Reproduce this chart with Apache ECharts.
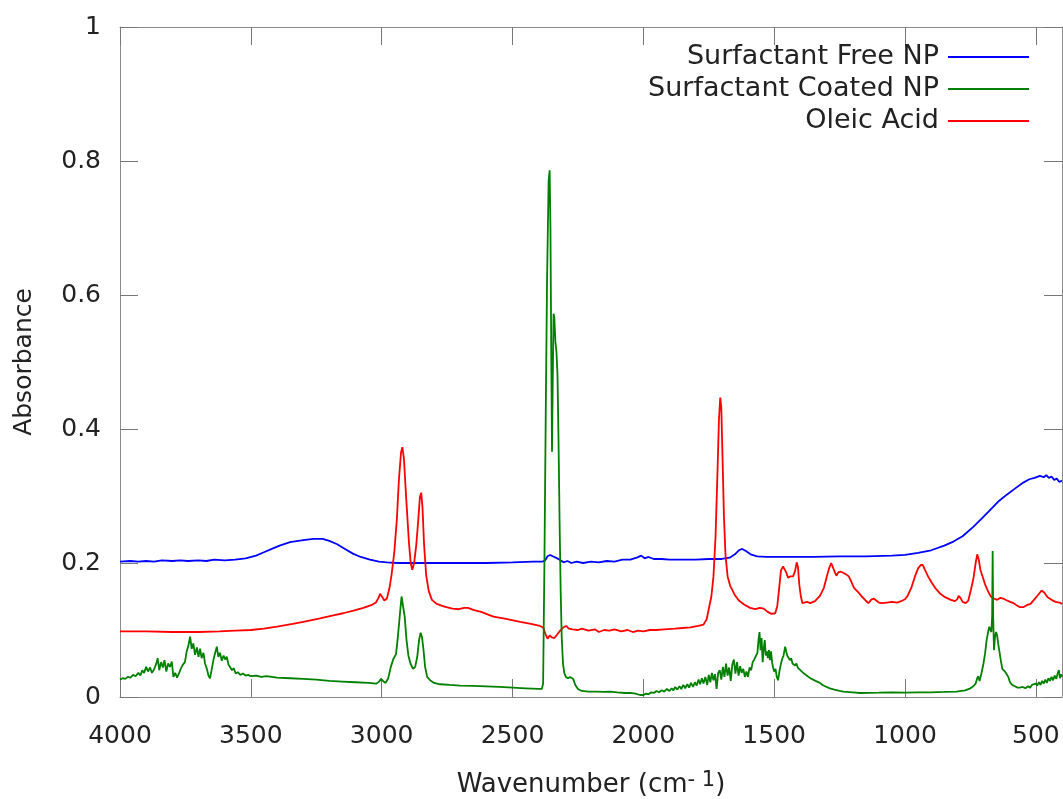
<!DOCTYPE html>
<html>
<head>
<meta charset="utf-8">
<script src="https://cdn.jsdelivr.net/npm/echarts@6/dist/echarts.min.js"></script>
<style>
  html, body { margin: 0; padding: 0; background: #fff; }
  #chart { width: 1063px; height: 799px; }
</style>
</head>
<body>
<div id="chart"></div>
<script>
// tick positions on the wavenumber axis
const xTicks = [500, 1000, 1500, 2000, 2500, 3000, 3500, 4000];

// [wavenumber, absorbance]
const freeNP = [
  [4000,0.202],[3960,0.203],[3930,0.202],[3900,0.203],[3870,0.202],[3840,0.204],[3800,0.203],[3770,0.204],
  [3740,0.203],[3700,0.204],[3670,0.203],[3640,0.205],[3600,0.204],[3560,0.205],[3520,0.207],[3480,0.211],
  [3450,0.216],[3420,0.221],[3390,0.226],[3350,0.231],[3300,0.234],[3260,0.236],[3225,0.236],[3200,0.233],
  [3170,0.228],[3140,0.221],[3110,0.214],[3080,0.209],[3045,0.205],[3010,0.202],[2980,0.201],[2940,0.200],
  [2900,0.200],[2800,0.200],[2700,0.200],[2600,0.200],[2500,0.201],[2420,0.202],[2385,0.202],[2375,0.204],
  [2366,0.210],[2356,0.212],[2346,0.210],[2335,0.208],[2320,0.205],[2305,0.201],[2290,0.203],[2275,0.200],
  [2255,0.202],[2230,0.200],[2200,0.202],[2170,0.201],[2140,0.203],[2110,0.202],[2080,0.205],[2050,0.205],
  [2025,0.208],[2008,0.211],[1995,0.207],[1980,0.209],[1960,0.206],[1930,0.206],[1900,0.205],[1850,0.205],
  [1800,0.205],[1750,0.206],[1700,0.206],[1670,0.208],[1650,0.213],[1635,0.219],[1622,0.221],[1608,0.218],
  [1590,0.213],[1565,0.210],[1530,0.209],[1450,0.209],[1350,0.209],[1250,0.210],[1150,0.210],[1050,0.211],
  [1000,0.212],[950,0.215],[900,0.219],[850,0.226],[815,0.232],[780,0.240],[739,0.254],[710,0.265],
  [675,0.279],[640,0.293],[611,0.302],[580,0.311],[548,0.320],[525,0.325],[505,0.327],[484,0.330],
  [470,0.328],[460,0.331],[450,0.327],[440,0.329],[430,0.324],[420,0.326],[410,0.321],[400,0.323]
];

const oleicAcid = [
  [4000,0.098],[3900,0.098],[3800,0.097],[3700,0.097],[3620,0.098],[3560,0.099],[3500,0.100],[3450,0.102],
  [3400,0.105],[3340,0.109],[3290,0.113],[3240,0.117],[3185,0.122],[3147,0.125],[3108,0.129],[3070,0.133],
  [3040,0.137],[3022,0.141],[3012,0.148],[3006,0.154],[2999,0.150],[2990,0.144],[2980,0.147],[2970,0.163],
  [2962,0.183],[2952,0.215],[2942,0.265],[2934,0.325],[2926,0.365],[2921,0.373],[2915,0.356],[2906,0.295],
  [2896,0.232],[2889,0.200],[2883,0.190],[2876,0.200],[2868,0.226],[2860,0.265],[2854,0.298],[2849,0.305],
  [2844,0.283],[2838,0.228],[2830,0.182],[2820,0.158],[2808,0.145],[2790,0.139],[2760,0.135],[2730,0.132],
  [2705,0.131],[2685,0.133],[2670,0.133],[2650,0.130],[2620,0.127],[2573,0.120],[2530,0.117],[2470,0.112],
  [2430,0.109],[2395,0.106],[2383,0.104],[2373,0.093],[2366,0.087],[2358,0.092],[2350,0.089],[2340,0.088],
  [2330,0.093],[2318,0.099],[2305,0.104],[2295,0.106],[2285,0.102],[2270,0.101],[2250,0.100],[2235,0.102],
  [2210,0.099],[2185,0.101],[2170,0.097],[2150,0.100],[2130,0.099],[2110,0.101],[2085,0.098],[2060,0.100],
  [2040,0.097],[2020,0.099],[2000,0.098],[1975,0.100],[1950,0.100],[1920,0.101],[1880,0.102],[1850,0.103],
  [1820,0.104],[1790,0.106],[1770,0.108],[1758,0.116],[1748,0.135],[1740,0.150],[1732,0.180],[1724,0.240],
  [1717,0.330],[1711,0.415],[1706,0.447],[1702,0.432],[1697,0.352],[1692,0.270],[1686,0.212],[1678,0.180],
  [1668,0.166],[1650,0.152],[1635,0.144],[1615,0.138],[1592,0.133],[1572,0.131],[1555,0.133],[1540,0.132],
  [1525,0.127],[1510,0.124],[1496,0.125],[1488,0.136],[1481,0.162],[1474,0.189],[1466,0.195],[1460,0.196],
  [1454,0.186],[1447,0.178],[1438,0.180],[1428,0.180],[1420,0.188],[1414,0.201],[1409,0.194],[1404,0.168],
  [1398,0.150],[1392,0.140],[1385,0.138],[1374,0.142],[1362,0.140],[1344,0.143],[1325,0.151],[1310,0.163],
  [1300,0.178],[1290,0.192],[1282,0.200],[1276,0.198],[1268,0.186],[1262,0.181],[1255,0.186],[1245,0.187],
  [1235,0.185],[1225,0.183],[1215,0.180],[1205,0.172],[1195,0.163],[1180,0.157],[1165,0.150],[1150,0.144],
  [1140,0.140],[1130,0.145],[1120,0.147],[1110,0.144],[1100,0.141],[1088,0.140],[1070,0.141],[1050,0.142],
  [1030,0.141],[1015,0.143],[1000,0.146],[990,0.151],[975,0.164],[962,0.180],[950,0.192],[940,0.197],
  [932,0.197],[924,0.190],[912,0.180],[900,0.172],[885,0.163],[865,0.154],[847,0.149],[825,0.145],
  [809,0.143],[800,0.146],[795,0.151],[788,0.148],[780,0.142],[768,0.140],[758,0.144],[748,0.160],
  [738,0.178],[730,0.200],[724,0.213],[718,0.205],[712,0.190],[702,0.178],[694,0.168],[683,0.158],
  [672,0.150],[660,0.147],[648,0.145],[635,0.148],[625,0.147],[610,0.144],[598,0.142],[585,0.140],
  [570,0.136],[560,0.134],[548,0.134],[535,0.137],[520,0.139],[505,0.146],[490,0.153],[478,0.159],
  [468,0.156],[455,0.149],[440,0.145],[425,0.142],[410,0.141],[400,0.139]
];

const coatedNP = [
  [4000,0.026],[3990,0.028],[3980,0.027],[3970,0.030],[3960,0.029],[3950,0.033],[3940,0.031],[3930,0.036],
  [3922,0.032],[3915,0.040],[3908,0.036],[3900,0.045],[3893,0.038],[3885,0.044],[3878,0.036],[3870,0.041],
  [3862,0.049],[3856,0.058],[3850,0.040],[3843,0.052],[3836,0.044],[3830,0.055],[3823,0.038],[3816,0.050],
  [3809,0.045],[3802,0.053],[3796,0.030],[3789,0.036],[3782,0.029],[3776,0.034],[3768,0.042],[3760,0.048],
  [3752,0.052],[3745,0.068],[3738,0.078],[3732,0.090],[3726,0.072],[3720,0.080],[3713,0.063],[3706,0.074],
  [3700,0.060],[3694,0.072],[3688,0.058],[3681,0.066],[3675,0.050],[3668,0.042],[3662,0.032],[3656,0.028],
  [3650,0.040],[3643,0.055],[3637,0.065],[3630,0.075],[3624,0.060],[3618,0.066],[3611,0.054],[3604,0.062],
  [3598,0.056],[3592,0.060],[3585,0.048],[3578,0.050],[3572,0.040],[3565,0.043],[3558,0.035],[3550,0.037],
  [3540,0.033],[3530,0.035],[3520,0.032],[3510,0.033],[3500,0.031],[3480,0.032],[3460,0.030],[3440,0.031],
  [3420,0.030],[3400,0.029],[3350,0.028],[3300,0.027],[3250,0.026],[3200,0.024],[3150,0.023],[3100,0.022],
  [3050,0.021],[3020,0.020],[3010,0.023],[3002,0.027],[2995,0.024],[2985,0.021],[2975,0.028],[2965,0.045],
  [2955,0.057],[2945,0.064],[2938,0.090],[2930,0.125],[2924,0.150],[2918,0.148],[2912,0.120],[2905,0.085],
  [2898,0.062],[2890,0.050],[2880,0.042],[2872,0.045],[2864,0.060],[2857,0.085],[2851,0.096],[2846,0.090],
  [2840,0.070],[2834,0.045],[2826,0.030],[2815,0.025],[2800,0.021],[2777,0.019],[2740,0.018],[2700,0.017],
  [2650,0.0165],[2600,0.016],[2550,0.015],[2500,0.014],[2450,0.013],[2400,0.012],[2388,0.012],[2383,0.020],
  [2378,0.200],[2373,0.420],[2368,0.620],[2362,0.770],[2358,0.786],[2355,0.700],[2352,0.520],[2349,0.366],
  [2346,0.480],[2343,0.572],[2340,0.565],[2336,0.530],[2332,0.515],[2328,0.480],[2324,0.380],[2320,0.260],
  [2316,0.160],[2312,0.090],[2307,0.050],[2302,0.036],[2296,0.030],[2288,0.028],[2280,0.030],[2274,0.031],
  [2268,0.027],[2260,0.018],[2250,0.012],[2235,0.009],[2210,0.008],[2180,0.008],[2150,0.0075],[2127,0.008],
  [2100,0.007],[2070,0.006],[2050,0.006],[2030,0.005],[2013,0.003],[2000,0.003],[1990,0.005],[1980,0.004],
  [1970,0.007],[1960,0.006],[1950,0.009],[1940,0.007],[1930,0.010],[1920,0.008],[1910,0.012],[1900,0.009],
  [1892,0.013],[1885,0.010],[1878,0.015],[1870,0.011],[1862,0.016],[1855,0.012],[1847,0.018],[1840,0.013],
  [1832,0.019],[1825,0.014],[1818,0.021],[1810,0.015],[1803,0.022],[1796,0.017],[1789,0.026],[1783,0.019],
  [1776,0.028],[1770,0.020],[1763,0.030],[1756,0.018],[1750,0.033],[1744,0.022],[1738,0.036],[1732,0.025],
  [1726,0.034],[1720,0.012],[1714,0.036],[1708,0.040],[1702,0.026],[1696,0.045],[1690,0.030],[1684,0.050],
  [1678,0.032],[1672,0.044],[1666,0.024],[1660,0.048],[1654,0.056],[1648,0.035],[1642,0.052],[1636,0.032],
  [1630,0.046],[1624,0.036],[1618,0.042],[1612,0.030],[1606,0.038],[1600,0.030],[1594,0.044],[1588,0.040],
  [1582,0.052],[1576,0.056],[1570,0.058],[1564,0.066],[1560,0.085],[1556,0.097],[1552,0.070],[1548,0.088],
  [1544,0.052],[1540,0.072],[1536,0.085],[1532,0.062],[1528,0.068],[1524,0.058],[1520,0.070],[1516,0.055],
  [1512,0.068],[1508,0.052],[1504,0.044],[1500,0.038],[1495,0.042],[1490,0.030],[1485,0.025],[1480,0.038],
  [1475,0.048],[1470,0.056],[1464,0.062],[1458,0.075],[1454,0.068],[1450,0.062],[1445,0.060],[1440,0.055],
  [1435,0.058],[1430,0.050],[1425,0.052],[1420,0.047],[1415,0.050],[1410,0.044],[1405,0.046],[1400,0.040],
  [1393,0.041],[1386,0.035],[1380,0.036],[1372,0.031],[1365,0.032],[1357,0.027],[1350,0.026],[1342,0.024],
  [1335,0.022],[1325,0.021],[1315,0.018],[1300,0.015],[1287,0.013],[1270,0.011],[1250,0.009],[1236,0.008],
  [1200,0.007],[1172,0.006],[1100,0.0065],[1050,0.007],[1000,0.0065],[950,0.007],[900,0.007],[850,0.0075],
  [803,0.008],[770,0.010],[750,0.013],[739,0.016],[730,0.020],[724,0.028],[720,0.031],[715,0.024],
  [708,0.035],[700,0.050],[694,0.065],[688,0.085],[682,0.098],[678,0.105],[674,0.100],[670,0.097],
  [667,0.120],[665,0.218],[663,0.120],[660,0.070],[656,0.090],[652,0.097],[648,0.092],[644,0.080],
  [640,0.070],[634,0.055],[628,0.042],[624,0.040],[618,0.038],[611,0.040],[605,0.030],[599,0.022],
  [590,0.018],[580,0.016],[570,0.014],[561,0.014],[550,0.015],[540,0.013],[530,0.016],[522,0.014],
  [515,0.018],[508,0.016],[500,0.020],[495,0.017],[488,0.022],[482,0.018],[476,0.024],[470,0.020],
  [464,0.026],[458,0.021],[452,0.028],[446,0.024],[440,0.030],[434,0.025],[428,0.032],[422,0.027],
  [416,0.036],[412,0.040],[408,0.028],[404,0.034],[400,0.030]
];

const font = 'DejaVu Sans';
const textColor = '#222';
const borderColor = '#8a8a8a';

const chart = echarts.init(document.getElementById('chart'));

function legendRow(name, top) {
  return {
    data: [name],
    orient: 'vertical',
    align: 'right',
    right: 34,
    top: top,
    padding: 0,
    icon: 'rect',
    itemWidth: 81,
    itemHeight: 2,
    selectedMode: false,
    textStyle: { fontFamily: font, fontSize: 27, color: textColor, lineHeight: 30, padding: [0, 4, 0, 0] }
  };
}

function mirrorAxisBase() {
  return {
    type: 'value',
    axisLine: { show: true, onZero: false, lineStyle: { color: borderColor, width: 1 } },
    axisTick: { show: true, inside: true, length: 18, lineStyle: { color: '#777' } },
    axisLabel: { show: false },
    splitLine: { show: false }
  };
}

let option = {
  backgroundColor: '#fff',
  animation: false,
  grid: { left: 120, right: 1, top: 27, bottom: 102, outerBoundsMode: 'none', containLabel: false },
  legend: [
    legendRow('Surfactant Free NP', 42),
    legendRow('Surfactant Coated NP', 74),
    legendRow('Oleic Acid', 106)
  ],
  xAxis: [
    Object.assign(mirrorAxisBase(), {
      min: 400, max: 4000, inverse: true, position: 'bottom',
      axisTick: { show: true, inside: true, length: 18, customValues: xTicks, lineStyle: { color: '#777' } },
      axisLabel: {
        show: true, customValues: xTicks, fontFamily: font, fontSize: 25, color: textColor, margin: 27,
        formatter: v => String(v)
      },
      name: 'Wavenumber (cm{sup|- 1})',
      nameLocation: 'middle',
      nameGap: 73,
      nameTextStyle: {
        fontFamily: font, fontSize: 26, color: textColor,
        rich: { sup: { fontFamily: font, fontSize: 21, color: textColor, padding: [0, 0, 10, 0] } }
      }
    }),
    Object.assign(mirrorAxisBase(), {
      min: 400, max: 4000, inverse: true, position: 'top',
      axisTick: { show: true, inside: true, length: 18, customValues: xTicks, lineStyle: { color: '#777' } }
    })
  ],
  yAxis: [
    Object.assign(mirrorAxisBase(), {
      min: 0, max: 1, interval: 0.2, position: 'left',
      axisLabel: { show: true, fontFamily: font, fontSize: 25, color: textColor, margin: 19 },
      name: 'Absorbance',
      nameLocation: 'middle',
      nameGap: 83,
      nameTextStyle: { fontFamily: font, fontSize: 25, color: textColor }
    }),
    Object.assign(mirrorAxisBase(), {
      min: 0, max: 1, interval: 0.2, position: 'right'
    })
  ],
  series: [
    {
      name: 'Surfactant Free NP', type: 'line', data: freeNP, symbol: 'none',
      itemStyle: { color: '#0000ff' }, lineStyle: { color: '#0000ff', width: 1.8 }
    },
    {
      name: 'Oleic Acid', type: 'line', data: oleicAcid, symbol: 'none',
      itemStyle: { color: '#ff0000' }, lineStyle: { color: '#ff0000', width: 1.8 }
    },
    {
      name: 'Surfactant Coated NP', type: 'line', data: coatedNP, symbol: 'none',
      itemStyle: { color: '#008000' }, lineStyle: { color: '#008000', width: 1.8 }
    }
  ]
};

chart.setOption(option);
</script>
</body>
</html>
